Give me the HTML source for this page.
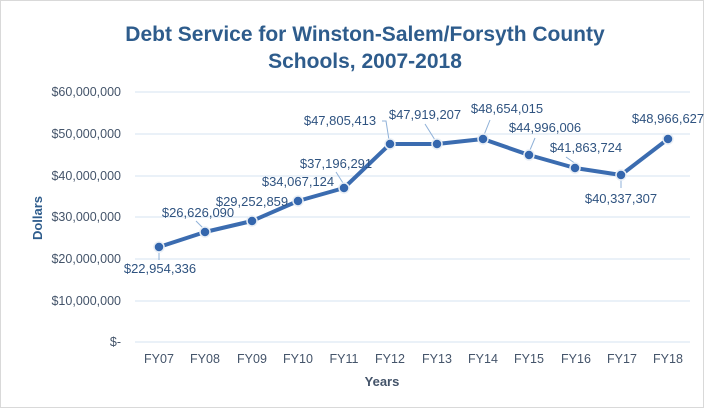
<!DOCTYPE html>
<html><head><style>body{margin:0;background:#fff}svg{display:block}</style></head><body>
<svg width="710" height="413" xmlns="http://www.w3.org/2000/svg" font-family="Liberation Sans, sans-serif">
<rect x="0.5" y="0.5" width="703" height="407" fill="#fff" stroke="#d9d9d9"/>
<text x="365" y="41" text-anchor="middle" font-size="21" font-weight="bold" fill="#2e5c8c">Debt Service for Winston-Salem/Forsyth County</text>
<text x="365" y="68" text-anchor="middle" font-size="21" font-weight="bold" fill="#2e5c8c">Schools, 2007-2018</text>
<g stroke="#d5e3f1" stroke-width="1">
<line x1="135" x2="690" y1="92" y2="92"/><line x1="135" x2="690" y1="134" y2="134"/><line x1="135" x2="690" y1="176" y2="176"/><line x1="135" x2="690" y1="217" y2="217"/><line x1="135" x2="690" y1="259" y2="259"/><line x1="135" x2="690" y1="301" y2="301"/><line x1="135" x2="690" y1="342" y2="342"/>
</g>
<g font-size="12.5" fill="#44546a" text-anchor="end">
<text x="121" y="96">$60,000,000</text><text x="121" y="138">$50,000,000</text><text x="121" y="180">$40,000,000</text><text x="121" y="221">$30,000,000</text><text x="121" y="263">$20,000,000</text><text x="121" y="305">$10,000,000</text><text x="121" y="346">$-</text>
</g>
<g font-size="12.5" fill="#44546a" text-anchor="middle">
<text x="159" y="363">FY07</text><text x="205" y="363">FY08</text><text x="252" y="363">FY09</text><text x="298" y="363">FY10</text><text x="344" y="363">FY11</text><text x="390" y="363">FY12</text><text x="437" y="363">FY13</text><text x="483" y="363">FY14</text><text x="529" y="363">FY15</text><text x="576" y="363">FY16</text><text x="622" y="363">FY17</text><text x="668" y="363">FY18</text>
</g>
<text x="382" y="386" text-anchor="middle" font-size="13" font-weight="bold" fill="#44546a">Years</text>
<text transform="translate(42,218) rotate(-90)" text-anchor="middle" font-size="13" font-weight="bold" fill="#2e5c8c">Dollars</text>
<g stroke="#8fb1d8" stroke-width="1" fill="none">
<polyline points="159,253 159,260"/><polyline points="196,221 203,228"/><polyline points="336,172 343,183"/><polyline points="382,121 386,121 389,140"/><polyline points="425,124 435,140"/><polyline points="490,120 484,135"/><polyline points="535,138 530,150"/><polyline points="566,157 576,164"/><polyline points="621,180 621,188"/>
</g>
<polyline fill="none" stroke="#3b6cb0" stroke-width="4" stroke-linejoin="round" points="159,247 205,232 252,221 298,201 344,188 390,144 437,144 483,139 529,155 575,168 621,175 668,139"/>
<g fill="#3466ad" stroke="#e8eef5" stroke-width="1.5">
<circle cx="159" cy="247" r="5"/><circle cx="205" cy="232" r="5"/><circle cx="252" cy="221" r="5"/><circle cx="298" cy="201" r="5"/><circle cx="344" cy="188" r="5"/><circle cx="390" cy="144" r="5"/><circle cx="437" cy="144" r="5"/><circle cx="483" cy="139" r="5"/><circle cx="529" cy="155" r="5"/><circle cx="575" cy="168" r="5"/><circle cx="621" cy="175" r="5"/><circle cx="668" cy="139" r="5"/>
</g>
<g font-size="13" fill="#2f5380" text-anchor="middle">
<text x="160" y="273">$22,954,336</text><text x="198" y="217">$26,626,090</text><text x="252" y="206">$29,252,859</text><text x="298" y="186">$34,067,124</text><text x="336" y="168">$37,196,291</text><text x="340" y="125">$47,805,413</text><text x="425" y="119">$47,919,207</text><text x="507" y="113">$48,654,015</text><text x="545" y="132">$44,996,006</text><text x="586" y="152">$41,863,724</text><text x="621" y="203">$40,337,307</text><text x="668" y="123">$48,966,627</text>
</g>
</svg>
</body></html>
